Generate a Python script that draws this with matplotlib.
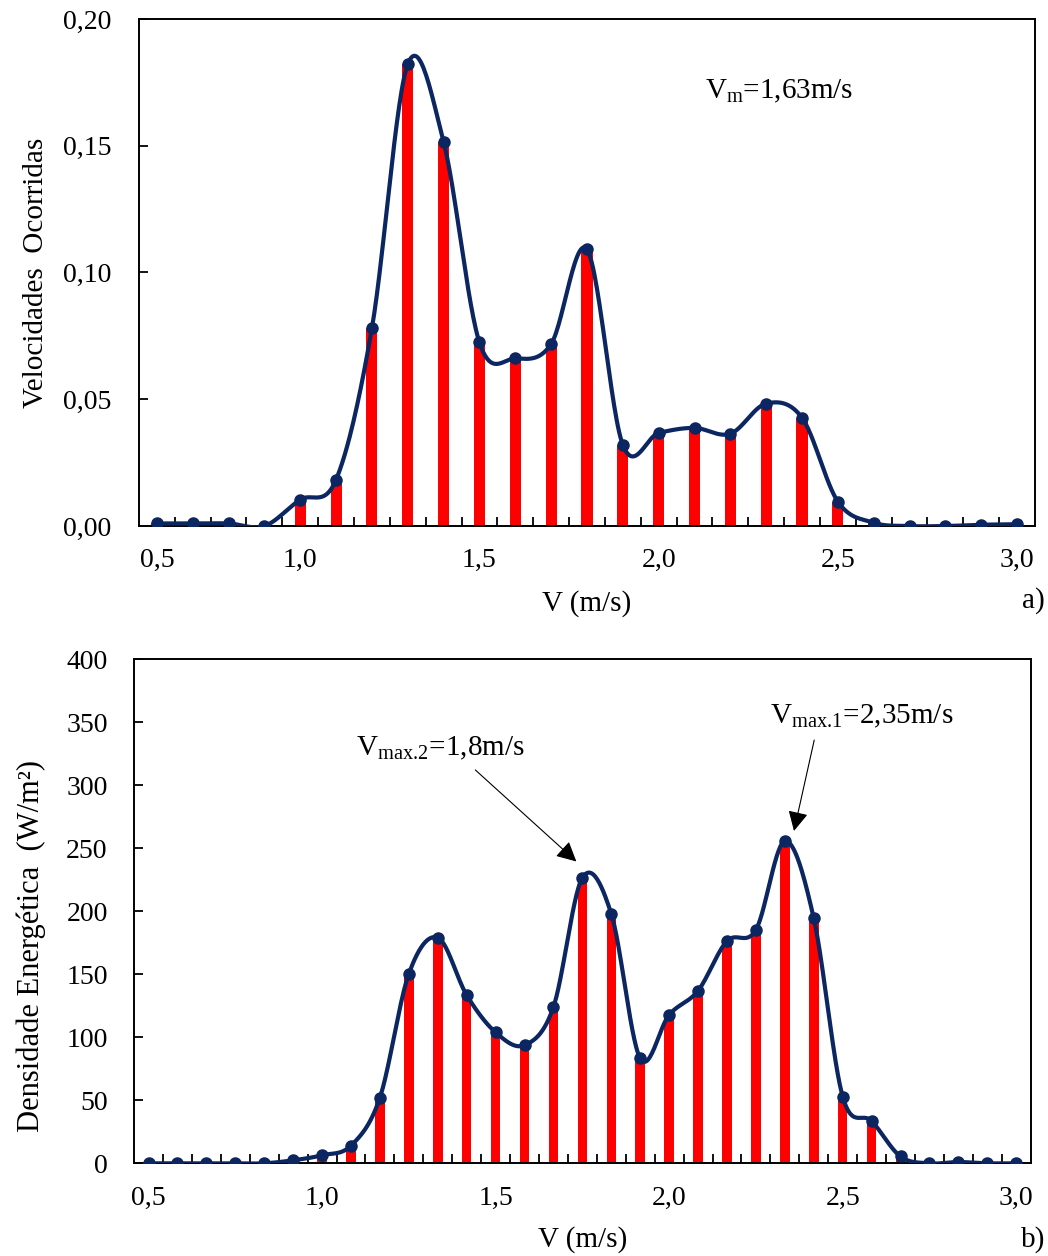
import numpy as np
import matplotlib
matplotlib.use("Agg")
import matplotlib.pyplot as plt
from matplotlib.ticker import FixedLocator, FixedFormatter

plt.rcParams['font.family'] = ['Liberation Serif', 'DejaVu Serif']
plt.rcParams['mathtext.fontset'] = 'custom'
plt.rcParams['mathtext.rm'] = 'Liberation Serif'
plt.rcParams['mathtext.it'] = 'Liberation Serif:italic'

# ---- a) frequency of occurrence of velocities (category axis)
v_a = ['0,5', '', '', '', '1,0', '1,1', '1,2', '1,3', '1,4', '1,5', '1,6', '1,7', '1,8',
       '1,9', '2,0', '2,1', '2,2', '2,3', '2,4', '2,5', '2,6', '2,7', '2,8', '2,9', '3,0']
freq_a = [0.001, 0.001, 0.001, 0.0, 0.0104, 0.0183, 0.0781, 0.1822, 0.1515, 0.0724,
          0.0661, 0.0718, 0.1091, 0.0320, 0.0367, 0.0387, 0.0364, 0.0483, 0.0427,
          0.0096, 0.0013, 0.0, 0.0, 0.0005, 0.0007]
xlabels_a = ['0,5', '1,0', '1,5', '2,0', '2,5', '3,0']
yticks_a = [0.0, 0.05, 0.10, 0.15, 0.20]
ylabels_a = ['0,00', '0,05', '0,10', '0,15', '0,20']

# ---- b) energy density
v_b = np.linspace(0.5, 3.0, 31)
dens_b = [0, 0, 0, 0, 0, 2.4, 6.4, 14.0, 52.1, 150.3, 179.0, 133.4, 103.9, 93.7, 124.0,
          226.5, 197.8, 83.2, 117.8, 136.9, 176.3, 185.2, 255.5, 194.3, 52.9, 33.5,
          5.4, 0, 1.0, 0, 0]
xticks_b = [0.5, 1.0, 1.5, 2.0, 2.5, 3.0]
xlabels_b = ['0,5', '1,0', '1,5', '2,0', '2,5', '3,0']
yticks_b = [0, 50, 100, 150, 200, 250, 300, 350, 400]

navy = '#0b2660'
red = '#ff0000'


def smooth(x, y, n=30):
    # bezier smoothing through the points (like a spreadsheet "smoothed line")
    x = np.asarray(x, float)
    y = np.asarray(y, float)
    px = np.concatenate([[x[0]], x, [x[-1]]])
    py = np.concatenate([[y[0]], y, [y[-1]]])
    t = np.linspace(0, 1, n)[:, None]
    out = []
    for i in range(1, len(px) - 2):
        p0 = np.array([px[i], py[i]])
        p3 = np.array([px[i + 1], py[i + 1]])
        c1 = p0 + (np.array([px[i + 1], py[i + 1]]) - np.array([px[i - 1], py[i - 1]])) / 6
        c2 = p3 - (np.array([px[i + 2], py[i + 2]]) - np.array([px[i], py[i]])) / 6
        seg = (1 - t) ** 3 * p0 + 3 * (1 - t) ** 2 * t * c1 + 3 * (1 - t) * t ** 2 * c2 + t ** 3 * p3
        out.append(seg)
    out = np.vstack(out)
    return out[:, 0], out[:, 1]


def style_axes(ax):
    for s in ax.spines.values():
        s.set_linewidth(1.4)
    ax.tick_params(which='both', direction='in', width=1.3, labelsize=20)
    ax.tick_params(which='major', axis='x', length=0, pad=16)
    ax.tick_params(which='minor', axis='x', length=6.5)
    ax.tick_params(which='major', axis='y', length=6.5, pad=20)


fig = plt.figure(figsize=(10.48, 12.56), dpi=100)

# ---------------- a)
ax1 = fig.add_axes([0.1326, 0.5812, 0.8550, 0.4037])
xa = np.arange(len(v_a))
ax1.bar(xa, freq_a, width=0.31, color=red, zorder=2)
sx, sy = smooth(xa, freq_a)
ax1.plot(sx, sy, color=navy, lw=3.0, zorder=3)
ax1.plot(xa, freq_a, 'o', color=navy, ms=8, zorder=4)
ax1.set_xlim(-0.5, len(v_a) - 0.5)
ax1.set_ylim(0, 0.20)
lab_idx = [i for i, s in enumerate(v_a) if s in xlabels_a]
ax1.xaxis.set_major_locator(FixedLocator(lab_idx))
ax1.xaxis.set_major_formatter(FixedFormatter([v_a[i] for i in lab_idx]))
ax1.xaxis.set_minor_locator(FixedLocator(np.arange(len(v_a) - 1) + 0.5))
ax1.yaxis.set_major_locator(FixedLocator(yticks_a))
ax1.yaxis.set_major_formatter(FixedFormatter(ylabels_a))
style_axes(ax1)
ax1.set_xlabel('V (m/s)', fontsize=21, va='center')
ax1.xaxis.set_label_coords(0.5, -0.153)
ax1.set_ylabel('Velocidades  Ocorridas', fontsize=21, va='center')
ax1.yaxis.set_label_coords(-0.115, 0.5)
ax1.text(15.29, 0.1686, r'V$_{\mathrm{m}}$=1,63m/s', fontsize=21, va='baseline', ha='left')

# ---------------- b)
ax2 = fig.add_axes([0.1279, 0.0738, 0.8556, 0.4015])
ax2.bar(v_b, dens_b, width=(v_b[1] - v_b[0]) * 0.33, color=red, zorder=2)
sx, sy = smooth(v_b, dens_b)
ax2.plot(sx, sy, color=navy, lw=3.0, zorder=3)
ax2.plot(v_b, dens_b, 'o', color=navy, ms=8, zorder=4)
step = v_b[1] - v_b[0]
ax2.set_xlim(v_b[0] - step / 2, v_b[-1] + step / 2)
ax2.set_ylim(0, 400)
ax2.xaxis.set_major_locator(FixedLocator(xticks_b))
ax2.xaxis.set_major_formatter(FixedFormatter(xlabels_b))
ax2.xaxis.set_minor_locator(FixedLocator(v_b[:-1] + step / 2))
ax2.yaxis.set_major_locator(FixedLocator(yticks_b))
style_axes(ax2)
ax2.tick_params(which='major', axis='y', pad=19)
ax2.set_xlabel('V (m/s)', fontsize=21, va='center')
ax2.xaxis.set_label_coords(0.5, -0.152)
ax2.set_ylabel('Densidade Energética  (W/m²)', fontsize=22, va='center')
ax2.yaxis.set_label_coords(-0.115, 0.43)

arrow = dict(arrowstyle='-|>,head_length=0.55,head_width=0.28', color='black',
             lw=0.8, mutation_scale=22, shrinkA=0, shrinkB=0)
ax2.text(1.099, 323.9, r'V$_{\mathrm{max.\!2}}$=1,8m/s', fontsize=21, va='baseline', ha='left')
ax2.annotate('', xy=(1.7327, 239.4), xytext=(1.4416, 312.0), arrowprops=arrow)
ax2.text(2.291, 348.6, r'V$_{\mathrm{max.\!1}}$=2,35m/s', fontsize=21, va='baseline', ha='left')
ax2.annotate('', xy=(2.3596, 263.6), xytext=(2.418, 335.7), arrowprops=arrow)

fig.text(1045 / 1048, 1 - 601 / 1256, 'a)', fontsize=21, ha='right', va='center')
fig.text(1045 / 1048, 1 - 1240 / 1256, 'b)', fontsize=21, ha='right', va='center')

fig.savefig('out.png', dpi=100)
